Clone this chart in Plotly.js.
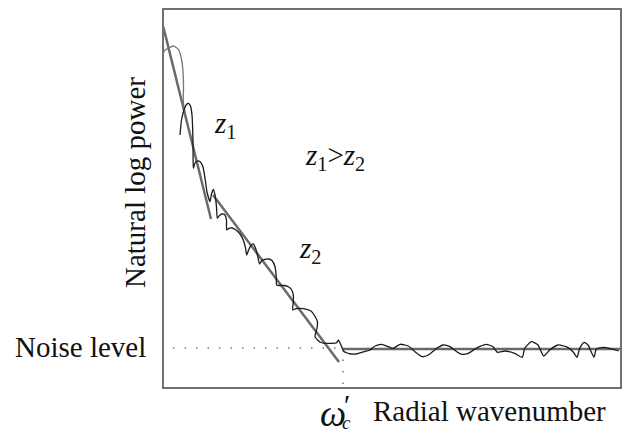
<!DOCTYPE html>
<html>
<head>
<meta charset="utf-8">
<script src="https://cdn.plot.ly/plotly-3.0.1.min.js"></script>
<style>html,body{margin:0;padding:0;background:#fff;}#chart{width:629px;height:433px;}</style>
</head>
<body>
<div id="chart"></div>
<script>
// Spectrum curve (black), radial wavenumber vs natural log power (arbitrary units)
const spectrumX = [17,18.5,21,23.5,25.5,27.5,29,29.7,30.1,30.3,32,34,37,40,42,44,47,48.5,50.3,52,53.5,54.3,56.5,59,62,63.5,63.7,66,69,73,77,80.3,82.5,83.7,86,88,90.3,92.5,94.5,96.5,99,102,106,109,112,113.3,113.7,117,121,125.3,128.5,130.3,130.3,129.7,133,137,143.7,148,151.5,154.5,154,152,155.3,158,162,168,173.7,175.3,178.7,180.3,184,188.7,193,198.7,207,212,218.7,225.3,230.3,237,245.3,252,259.3,265.3,273.7,280.3,287,293.7,298.7,305.3,312,317,323.3,330,334.3,341.7,351.7,359.3,361.7,368.3,375,380.7,386.7,395,403.3,410,414,416.7,421,425,431,433.3,440,446.7,455.7];
const spectrumY = [253,268,278,283.5,284.7,282,273,258,238,219.7,225,227,226.5,221,210,196,186.5,194,198.5,193,181,169.7,172.5,174,173,168,158,159.7,160,158,154,148,140,133,139,142.5,144,140,133,124,127.5,128.7,129,127.5,121.3,111.3,103,102.5,102.5,101.3,98.5,93,86,78,79.3,79.7,78.7,77,72.5,66.3,60,51.3,47.3,45.5,44.7,44.7,45.3,48,41.3,37,35,34,34,35.7,38,42,43.7,41.3,39.7,43.7,42,36.3,31.3,33,39.7,43,41.3,36.3,33.7,34.7,39,41.7,43.7,41.3,35.7,37,34.7,30.7,39.7,46.3,43,32,38,43,41.3,36.3,30.7,39.7,45.7,43,30.7,39,40.7,39.7,37];
// Low-wavenumber segment (gray)
const lowX = [0.3,2,5.3,10.3,15.3,18.7,20.3,20.5,20.2,21.5];
const lowY = [335,338,339.7,342,338.7,328,311.3,298,288,276];
// Fitted straight segments
const z1LineX = [0.3, 48];
const z1LineY = [361.3, 169];
const z2LineX = [50, 176];
const z2LineY = [193, 26];
const noiseLineX = [180, 458];
const noiseLineY = [39, 39];
// Guides
const noiseLevel = 40;
const cutoffX = 180;
const guideHX = [10, cutoffX];
const guideHY = [noiseLevel, noiseLevel];
const guideVX = [cutoffX, cutoffX];
const guideVY = [noiseLevel, 0];
const xRange = [0, 458];
const yRange = [0, 379];

const serif = "Liberation Serif";
const lineGray = "#6a6a6a";

const traces = [
  {x: guideHX, y: guideHY, mode: "lines", line: {color: "#777", width: 1.5, dash: "1.5px,10px"}, hoverinfo: "skip"},
  {x: guideVX, y: guideVY, mode: "lines", line: {color: "#777", width: 1.5, dash: "1.5px,10px"}, hoverinfo: "skip"},
  {x: z1LineX, y: z1LineY, mode: "lines", line: {color: lineGray, width: 2.5}, hoverinfo: "skip"},
  {x: z2LineX, y: z2LineY, mode: "lines", line: {color: lineGray, width: 2.5}, hoverinfo: "skip"},
  {x: noiseLineX, y: noiseLineY, mode: "lines", line: {color: lineGray, width: 2.5}, hoverinfo: "skip"},
  {x: lowX, y: lowY, mode: "lines", line: {color: "#777", width: 1.3, shape: "spline", smoothing: 0.6}, hoverinfo: "skip"},
  {x: spectrumX, y: spectrumY, mode: "lines", line: {color: "#1a1a1a", width: 1.3, shape: "spline", smoothing: 0.5}, hoverinfo: "skip"}
];

const ax = {showgrid: false, zeroline: false, showticklabels: false, ticks: "", showline: false, fixedrange: true};

function ann(x, y, text, size, extra) {
  return Object.assign({x: x, y: y, xref: "paper", yref: "paper", text: text, showarrow: false,
    borderpad: 0, xanchor: "center", yanchor: "middle", font: {family: serif, size: size || 29, color: "#111"}}, extra || {});
}

const layout = {
  width: 629, height: 433,
  margin: {l: 163, r: 8, t: 9, b: 45},
  paper_bgcolor: "#fff", plot_bgcolor: "#fff",
  showlegend: false,
  xaxis: Object.assign({}, ax, {range: xRange}),
  yaxis: Object.assign({}, ax, {range: yRange}),
  font: {family: serif, size: 29, color: "#111"},
  shapes: [
    {type: "rect", xref: "paper", yref: "paper", x0: 0, x1: 1, y0: 0, y1: 1, line: {color: "#707070", width: 2}}
  ],
  annotations: [
    ann(0.135, 0.695, "<i>z</i><sub>1</sub>"),
    ann(0.3755, 0.61, "<i>z</i><sub>1</sub>&gt;<i>z</i><sub>2</sub>"),
    ann(0.321, 0.365, "<i>z</i><sub>2</sub>"),
    ann(-0.035, 0.108, "Noise level", 29, {xanchor: "right"}),
    ann(-0.061, 0.541, "Natural log power", 29, {textangle: -90}),
    ann(0.713, -0.062, "Radial wavenumber"),
    ann(0.371, -0.068, "<i>ω</i>", 37),
    ann(0.399, -0.043, "<i>′</i>", 30),
    ann(0.401, -0.090, "<i>c</i>", 19)
  ]
};

Plotly.newPlot("chart", traces, layout, {staticPlot: true, displayModeBar: false});
</script>
</body>
</html>
